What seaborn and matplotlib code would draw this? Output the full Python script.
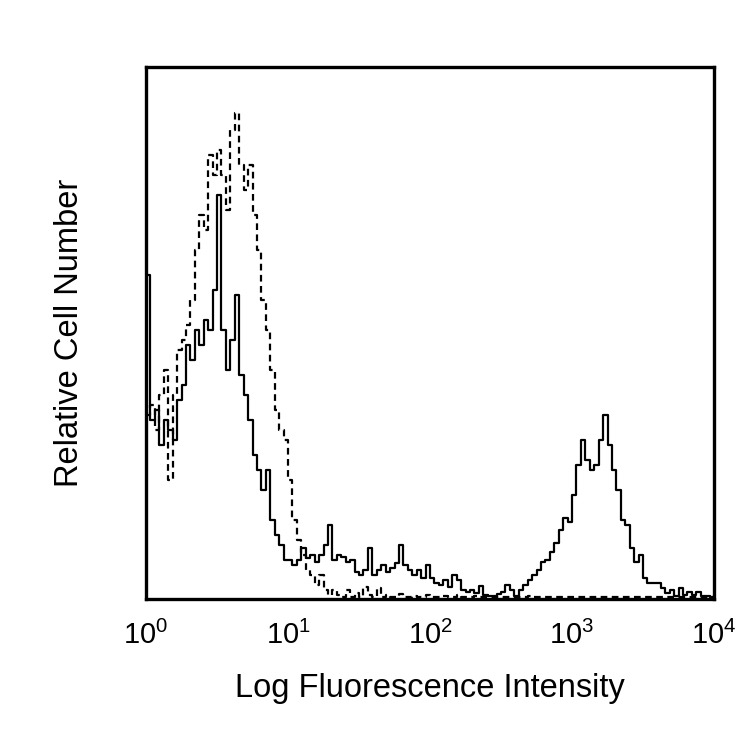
import numpy as np
import pandas as pd
import matplotlib
matplotlib.use("Agg")
import matplotlib.pyplot as plt
import seaborn as sns
from matplotlib.ticker import FixedLocator, LogFormatterSciNotation, NullLocator

# ---- data: 128 log-spaced channels over 10^0 .. 10^4 (relative counts) ----
n_bins = 128
decades = (0, 4)

solid_counts = [
    324, 179, 189, 154, 179, 169, 159, 199, 214, 254, 239, 269, 254, 279, 269, 309,
    404, 269, 229, 259, 304, 224, 204, 179, 144, 129, 109, 129, 79, 64, 54, 39,
    39, 34, 39, 51, 41, 44, 37, 44, 54, 74, 39, 44, 42, 37, 39, 27,
    24, 29, 51, 24, 29, 34, 27, 31, 36, 54, 34, 29, 24, 29, 21, 34,
    21, 16, 14, 19, 12, 24, 19, 9, 7, 9, 6, 13, 4, 3, 3, 5,
    7, 14, 9, 3, 9, 14, 19, 24, 29, 37, 39, 47, 56, 69, 81, 77,
    104, 134, 159, 139, 129, 134, 159, 184, 154, 129, 109, 79, 74, 51, 37, 44,
    21, 16, 16, 16, 11, 6, 9, 3, 11, 4, 7, 4, 7, 3, 3, 2,
]

dashed_counts = [
    184, 194, 169, 204, 229, 119, 204, 249, 259, 274, 299, 349, 384, 369, 444, 424,
    449, 424, 389, 469, 486, 434, 409, 434, 384, 349, 299, 269, 229, 189, 169, 159,
    119, 79, 59, 44, 29, 24, 14, 24, 9, 4, 9, 4, 2, 9, 2, 6,
    2, 12, 4, 2, 11, 2, 4, 2, 2, 5, 2, 2, 3, 2, 2, 4,
    2, 2, 2, 3, 2, 2, 4, 2, 2, 2, 3, 2, 2, 2, 2, 2,
    2, 2, 2, 2, 2, 2, 3, 2, 2, 2, 2, 2, 2, 2, 2, 2,
    2, 2, 2, 2, 2, 2, 2, 2, 2, 2, 2, 2, 2, 2, 2, 2,
    2, 2, 2, 2, 2, 2, 2, 2, 2, 2, 2, 2, 2, 2, 2, 2,
]

tick_values = [1, 10, 100, 1000, 10000]
x_label = "Log Fluorescence Intensity"
y_label = "Relative Cell Number"
y_max = 532

# ---- bins ----
edges = np.logspace(decades[0], decades[1], n_bins + 1)
centers = np.sqrt(edges[:-1] * edges[1:])

df_solid = pd.DataFrame({"x": centers, "w": solid_counts})
df_dash = pd.DataFrame({"x": centers, "w": dashed_counts})

sns.set_style("white")
plt.rcParams["font.family"] = ["Liberation Sans", "DejaVu Sans"]
plt.rcParams["mathtext.fontset"] = "custom"
plt.rcParams["mathtext.rm"] = "Liberation Sans"
plt.rcParams["mathtext.it"] = "Liberation Sans:italic"
plt.rcParams["mathtext.bf"] = "Liberation Sans:bold"
plt.rcParams["mathtext.default"] = "regular"
plt.rcParams["text.color"] = "black"
plt.rcParams["axes.labelcolor"] = "black"
plt.rcParams["xtick.color"] = "black"
plt.rcParams["xtick.labelcolor"] = "black"

fig = plt.figure(figsize=(7.5, 7.5), dpi=100)
ax = fig.add_axes([146 / 750, 151 / 750, 568 / 750, 532 / 750])

bin_list = edges.tolist()
sns.histplot(data=df_dash, x="x", weights="w", bins=bin_list, element="step",
             fill=False, color="black", linewidth=1.6, linestyle=(0, (3, 2)), ax=ax)
sns.histplot(data=df_solid, x="x", weights="w", bins=bin_list, element="step",
             fill=False, color="black", linewidth=1.6, ax=ax)

ax.set_xscale("log")
ax.set_xlim(edges[0], edges[-1])
ax.set_ylim(0, y_max)
ax.xaxis.set_major_locator(FixedLocator(tick_values))
ax.xaxis.set_major_formatter(LogFormatterSciNotation())
ax.xaxis.set_minor_locator(NullLocator())
ax.set_yticks([])
ax.tick_params(axis="x", length=0, pad=16, labelsize=21, labelcolor="black")

for s in ax.spines.values():
    s.set_visible(True)
    s.set_linewidth(2.4)
    s.set_color("black")

ax.set_xlabel(x_label, fontsize=23.5, labelpad=16)
ax.set_ylabel(y_label, fontsize=23.5, labelpad=44)

fig.savefig("out.png", dpi=100, facecolor="white")
